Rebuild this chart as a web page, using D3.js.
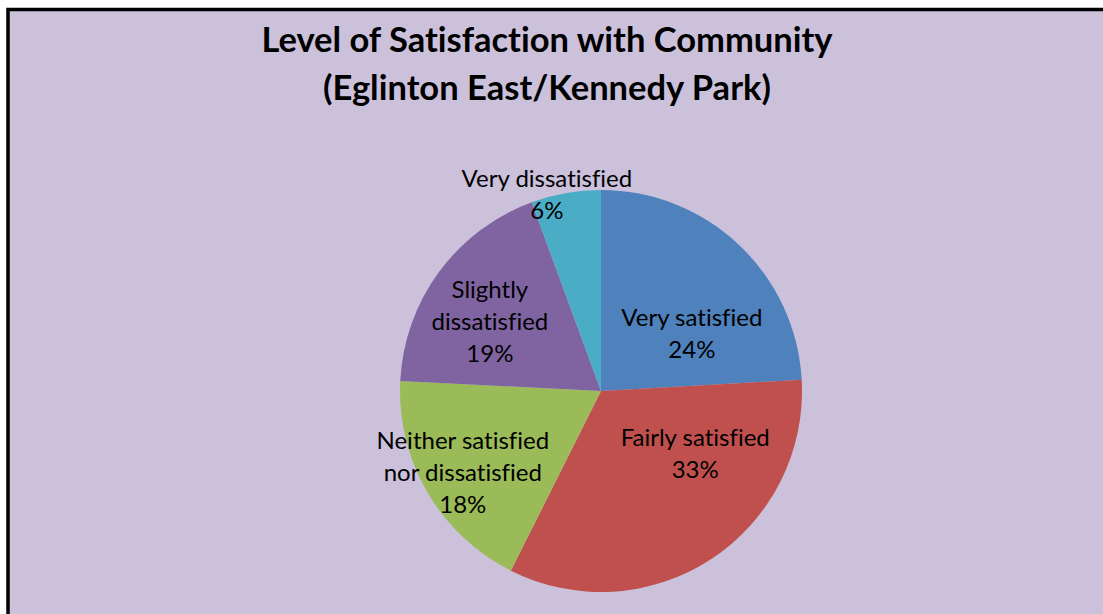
<!DOCTYPE html>
<html>
<head>
<meta charset="utf-8">
<script src="https://cdn.jsdelivr.net/npm/d3@7"></script>
<style>
  body { margin: 0; background: #fff; }
  svg { display: block; }
  text { font-variant-ligatures: none; }
</style>
</head>
<body>
<script>

// data (share of respondents, %)
var categories = ["Very satisfied", "Fairly satisfied", "Neither satisfied\nnor dissatisfied", "Slightly\ndissatisfied", "Very dissatisfied"];
var values = [24.1, 33.3, 18.4, 18.6, 5.6];
var colors = ["#4F81BD", "#C0504D", "#9BBB59", "#8064A2", "#4BACC6"];
var titleLines = ["Level of Satisfaction with Community", "(Eglinton East/Kennedy Park)"];

var width = 1103, height = 614;
var cx = 601, cy = 391, radius = 201;

var svg = d3.select("body")
            .append("svg")
            .attr("width", width)
            .attr("height", height);

// chart area with the thick black frame
svg.append("rect")
   .attr("x", 8)
   .attr("y", 9.5)
   .attr("width", width + 20)
   .attr("height", height + 20)
   .attr("fill", "#CBC1DB")
   .attr("stroke", "#000")
   .attr("stroke-width", 3.5);

// title
svg.append("text")
   .attr("x", 547)
   .attr("y", 52)
   .attr("text-anchor", "middle")
   .style("font-family", "Lato, 'Open Sans', sans-serif")
   .style("font-weight", "bold")
   .style("font-size", "34.5px")
   .attr("fill", "#000")
   .selectAll("tspan")
   .data(titleLines)
   .enter().append("tspan")
   .attr("x", 547)
   .attr("dy", function(d, i) { return i == 0 ? 0 : 48; })
   .text(function(d) { return d; });

var pie = d3.pie().sort(null).value(function(d) { return d; });
var arcs = pie(values);

var arc = d3.arc().innerRadius(0).outerRadius(radius);
var labelArc = d3.arc().innerRadius(radius * 0.6).outerRadius(radius * 0.6);

var g = svg.append("g")
           .attr("transform", "translate(" + cx + "," + cy + ")");

g.selectAll("path")
 .data(arcs)
 .enter().append("path")
 .attr("d", arc)
 .attr("fill", function(d, i) { return colors[i]; });

// excel "best fit" places labels a little off the centroid
var nudge = [[8, 31], [28, -38], [-34, 21], [-14, 2], [-33, -77]];
var lineH = 32;

var labels = g.selectAll("text.lbl")
  .data(arcs)
  .enter().append("text")
  .attr("class", "lbl")
  .attr("text-anchor", "middle")
  .style("font-family", "Lato, 'Open Sans', sans-serif")
  .style("font-size", "24px")
  .attr("fill", "#000")
  .attr("transform", function(d, i) {
     var c = labelArc.centroid(d);
     return "translate(" + (c[0] + nudge[i][0]) + "," + (c[1] + nudge[i][1]) + ")";
  });

labels.each(function(d, i) {
  var lines = categories[i].split("\n").concat([Math.round(values[i]) + "%"]);
  var top = -(lines.length - 1) * lineH / 2 + 8;
  d3.select(this).selectAll("tspan")
    .data(lines)
    .enter().append("tspan")
    .attr("x", 0)
    .attr("y", function(l, j) { return top + j * lineH; })
    .text(function(l) { return l; });
});

</script>
</body>
</html>
